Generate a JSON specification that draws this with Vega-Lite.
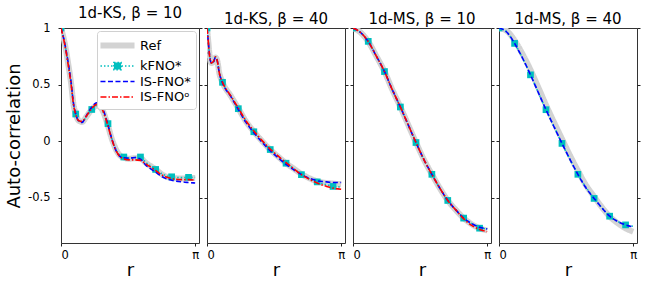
{
  "$schema": "https://vega.github.io/schema/vega-lite/v6.json",
  "padding": {"left": 5, "top": 5, "right": 2, "bottom": 0},
  "background": "white",
  "datasets": {
    "curves": [
      {"panel":"KS10","x":0,"Ref":1,"kFNO*":1,"IS-FNO*":1,"IS-FNOᵒ":1},
      {"panel":"KS10","x":0.09,"Ref":0.86,"kFNO*":0.86,"IS-FNO*":0.86,"IS-FNOᵒ":0.85},
      {"panel":"KS10","x":0.17,"Ref":0.68,"kFNO*":0.68,"IS-FNO*":0.69,"IS-FNOᵒ":0.67},
      {"panel":"KS10","x":0.24,"Ref":0.5,"kFNO*":0.5,"IS-FNO*":0.51,"IS-FNOᵒ":0.49},
      {"panel":"KS10","x":0.29,"Ref":0.33,"kFNO*":0.33,"IS-FNO*":0.34,"IS-FNOᵒ":0.33},
      {"panel":"KS10","x":0.345,"Ref":0.24,"kFNO*":0.24,"IS-FNO*":0.24,"IS-FNOᵒ":0.235},
      {"panel":"KS10","x":0.42,"Ref":0.18,"kFNO*":0.18,"IS-FNO*":0.175,"IS-FNOᵒ":0.18},
      {"panel":"KS10","x":0.49,"Ref":0.17,"kFNO*":0.17,"IS-FNO*":0.165,"IS-FNOᵒ":0.175},
      {"panel":"KS10","x":0.6,"Ref":0.22,"kFNO*":0.22,"IS-FNO*":0.23,"IS-FNOᵒ":0.225},
      {"panel":"KS10","x":0.72,"Ref":0.28,"kFNO*":0.28,"IS-FNO*":0.3,"IS-FNOᵒ":0.29},
      {"panel":"KS10","x":0.84,"Ref":0.315,"kFNO*":0.315,"IS-FNO*":0.34,"IS-FNOᵒ":0.325},
      {"panel":"KS10","x":0.96,"Ref":0.28,"kFNO*":0.28,"IS-FNO*":0.3,"IS-FNOᵒ":0.285},
      {"panel":"KS10","x":1.08,"Ref":0.16,"kFNO*":0.16,"IS-FNO*":0.17,"IS-FNOᵒ":0.16},
      {"panel":"KS10","x":1.19,"Ref":0.02,"kFNO*":0.02,"IS-FNO*":0.02,"IS-FNOᵒ":0.015},
      {"panel":"KS10","x":1.31,"Ref":-0.09,"kFNO*":-0.09,"IS-FNO*":-0.1,"IS-FNOᵒ":-0.1},
      {"panel":"KS10","x":1.43,"Ref":-0.14,"kFNO*":-0.14,"IS-FNO*":-0.145,"IS-FNOᵒ":-0.15},
      {"panel":"KS10","x":1.59,"Ref":-0.155,"kFNO*":-0.15,"IS-FNO*":-0.15,"IS-FNOᵒ":-0.165},
      {"panel":"KS10","x":1.74,"Ref":-0.15,"kFNO*":-0.145,"IS-FNO*":-0.145,"IS-FNOᵒ":-0.165},
      {"panel":"KS10","x":1.86,"Ref":-0.15,"kFNO*":-0.14,"IS-FNO*":-0.16,"IS-FNOᵒ":-0.17},
      {"panel":"KS10","x":1.98,"Ref":-0.19,"kFNO*":-0.185,"IS-FNO*":-0.21,"IS-FNOᵒ":-0.2},
      {"panel":"KS10","x":2.22,"Ref":-0.25,"kFNO*":-0.25,"IS-FNO*":-0.275,"IS-FNOᵒ":-0.26},
      {"panel":"KS10","x":2.37,"Ref":-0.295,"kFNO*":-0.29,"IS-FNO*":-0.315,"IS-FNOᵒ":-0.3},
      {"panel":"KS10","x":2.59,"Ref":-0.325,"kFNO*":-0.318,"IS-FNO*":-0.345,"IS-FNOᵒ":-0.33},
      {"panel":"KS10","x":2.84,"Ref":-0.33,"kFNO*":-0.322,"IS-FNO*":-0.36,"IS-FNOᵒ":-0.34},
      {"panel":"KS10","x":2.98,"Ref":-0.325,"kFNO*":-0.32,"IS-FNO*":-0.365,"IS-FNOᵒ":-0.34},
      {"panel":"KS10","x":3.14,"Ref":-0.325,"kFNO*":-0.32,"IS-FNO*":-0.37,"IS-FNOᵒ":-0.345},

      {"panel":"KS40","x":0,"Ref":1,"kFNO*":1,"IS-FNO*":1,"IS-FNOᵒ":1},
      {"panel":"KS40","x":0.03,"Ref":0.88,"kFNO*":0.88,"IS-FNO*":0.88,"IS-FNOᵒ":0.88},
      {"panel":"KS40","x":0.06,"Ref":0.76,"kFNO*":0.76,"IS-FNO*":0.76,"IS-FNOᵒ":0.755},
      {"panel":"KS40","x":0.1,"Ref":0.69,"kFNO*":0.69,"IS-FNO*":0.69,"IS-FNOᵒ":0.69},
      {"panel":"KS40","x":0.15,"Ref":0.7,"kFNO*":0.7,"IS-FNO*":0.7,"IS-FNOᵒ":0.705},
      {"panel":"KS40","x":0.2,"Ref":0.74,"kFNO*":0.74,"IS-FNO*":0.74,"IS-FNOᵒ":0.745},
      {"panel":"KS40","x":0.24,"Ref":0.71,"kFNO*":0.71,"IS-FNO*":0.71,"IS-FNOᵒ":0.71},
      {"panel":"KS40","x":0.29,"Ref":0.6,"kFNO*":0.6,"IS-FNO*":0.6,"IS-FNOᵒ":0.6},
      {"panel":"KS40","x":0.363,"Ref":0.52,"kFNO*":0.52,"IS-FNO*":0.515,"IS-FNOᵒ":0.52},
      {"panel":"KS40","x":0.556,"Ref":0.4,"kFNO*":0.4,"IS-FNO*":0.395,"IS-FNOᵒ":0.4},
      {"panel":"KS40","x":0.733,"Ref":0.29,"kFNO*":0.288,"IS-FNO*":0.28,"IS-FNOᵒ":0.292},
      {"panel":"KS40","x":0.903,"Ref":0.18,"kFNO*":0.18,"IS-FNO*":0.17,"IS-FNOᵒ":0.185},
      {"panel":"KS40","x":1.096,"Ref":0.085,"kFNO*":0.083,"IS-FNO*":0.075,"IS-FNOᵒ":0.09},
      {"panel":"KS40","x":1.29,"Ref":0,"kFNO*":0,"IS-FNO*":-0.01,"IS-FNOᵒ":0.005},
      {"panel":"KS40","x":1.48,"Ref":-0.075,"kFNO*":-0.074,"IS-FNO*":-0.085,"IS-FNOᵒ":-0.07},
      {"panel":"KS40","x":1.675,"Ref":-0.14,"kFNO*":-0.14,"IS-FNO*":-0.15,"IS-FNOᵒ":-0.135},
      {"panel":"KS40","x":1.85,"Ref":-0.195,"kFNO*":-0.195,"IS-FNO*":-0.205,"IS-FNOᵒ":-0.19},
      {"panel":"KS40","x":2.02,"Ref":-0.24,"kFNO*":-0.24,"IS-FNO*":-0.25,"IS-FNOᵒ":-0.24},
      {"panel":"KS40","x":2.21,"Ref":-0.29,"kFNO*":-0.293,"IS-FNO*":-0.295,"IS-FNOᵒ":-0.295},
      {"panel":"KS40","x":2.41,"Ref":-0.33,"kFNO*":-0.335,"IS-FNO*":-0.33,"IS-FNOᵒ":-0.34},
      {"panel":"KS40","x":2.58,"Ref":-0.355,"kFNO*":-0.36,"IS-FNO*":-0.35,"IS-FNOᵒ":-0.37},
      {"panel":"KS40","x":2.8,"Ref":-0.37,"kFNO*":-0.385,"IS-FNO*":-0.36,"IS-FNOᵒ":-0.4},
      {"panel":"KS40","x":2.95,"Ref":-0.375,"kFNO*":-0.4,"IS-FNO*":-0.365,"IS-FNOᵒ":-0.415},
      {"panel":"KS40","x":3.14,"Ref":-0.38,"kFNO*":-0.405,"IS-FNO*":-0.365,"IS-FNOᵒ":-0.425},

      {"panel":"MS10","x":0,"Ref":1,"kFNO*":1,"IS-FNO*":1,"IS-FNOᵒ":1},
      {"panel":"MS10","x":0.178,"Ref":0.96,"kFNO*":0.96,"IS-FNO*":0.96,"IS-FNOᵒ":0.96},
      {"panel":"MS10","x":0.357,"Ref":0.88,"kFNO*":0.88,"IS-FNO*":0.88,"IS-FNOᵒ":0.88},
      {"panel":"MS10","x":0.543,"Ref":0.754,"kFNO*":0.754,"IS-FNO*":0.754,"IS-FNOᵒ":0.754},
      {"panel":"MS10","x":0.737,"Ref":0.615,"kFNO*":0.615,"IS-FNO*":0.615,"IS-FNOᵒ":0.615},
      {"panel":"MS10","x":0.915,"Ref":0.459,"kFNO*":0.459,"IS-FNO*":0.459,"IS-FNOᵒ":0.459},
      {"panel":"MS10","x":1.109,"Ref":0.302,"kFNO*":0.302,"IS-FNO*":0.302,"IS-FNOᵒ":0.302},
      {"panel":"MS10","x":1.288,"Ref":0.148,"kFNO*":0.148,"IS-FNO*":0.148,"IS-FNOᵒ":0.148},
      {"panel":"MS10","x":1.474,"Ref":-0.012,"kFNO*":-0.012,"IS-FNO*":-0.012,"IS-FNOᵒ":-0.012},
      {"panel":"MS10","x":1.66,"Ref":-0.163,"kFNO*":-0.163,"IS-FNO*":-0.163,"IS-FNOᵒ":-0.163},
      {"panel":"MS10","x":1.846,"Ref":-0.293,"kFNO*":-0.293,"IS-FNO*":-0.293,"IS-FNOᵒ":-0.293},
      {"panel":"MS10","x":2.03,"Ref":-0.414,"kFNO*":-0.414,"IS-FNO*":-0.414,"IS-FNOᵒ":-0.414},
      {"panel":"MS10","x":2.218,"Ref":-0.524,"kFNO*":-0.524,"IS-FNO*":-0.524,"IS-FNOᵒ":-0.524},
      {"panel":"MS10","x":2.405,"Ref":-0.607,"kFNO*":-0.607,"IS-FNO*":-0.607,"IS-FNOᵒ":-0.607},
      {"panel":"MS10","x":2.59,"Ref":-0.68,"kFNO*":-0.678,"IS-FNO*":-0.68,"IS-FNOᵒ":-0.685},
      {"panel":"MS10","x":2.777,"Ref":-0.734,"kFNO*":-0.73,"IS-FNO*":-0.728,"IS-FNOᵒ":-0.745},
      {"panel":"MS10","x":2.963,"Ref":-0.769,"kFNO*":-0.765,"IS-FNO*":-0.76,"IS-FNOᵒ":-0.78},
      {"panel":"MS10","x":3.14,"Ref":-0.79,"kFNO*":-0.775,"IS-FNO*":-0.775,"IS-FNOᵒ":-0.8},

      {"panel":"MS40","x":0,"Ref":1,"kFNO*":1,"IS-FNO*":1},
      {"panel":"MS40","x":0.18,"Ref":0.975,"kFNO*":0.965,"IS-FNO*":0.965},
      {"panel":"MS40","x":0.365,"Ref":0.89,"kFNO*":0.864,"IS-FNO*":0.864},
      {"panel":"MS40","x":0.55,"Ref":0.77,"kFNO*":0.735,"IS-FNO*":0.735},
      {"panel":"MS40","x":0.737,"Ref":0.63,"kFNO*":0.586,"IS-FNO*":0.586},
      {"panel":"MS40","x":0.92,"Ref":0.475,"kFNO*":0.43,"IS-FNO*":0.43},
      {"panel":"MS40","x":1.1,"Ref":0.32,"kFNO*":0.278,"IS-FNO*":0.278},
      {"panel":"MS40","x":1.29,"Ref":0.165,"kFNO*":0.127,"IS-FNO*":0.125},
      {"panel":"MS40","x":1.474,"Ref":0.02,"kFNO*":-0.02,"IS-FNO*":-0.02},
      {"panel":"MS40","x":1.66,"Ref":-0.125,"kFNO*":-0.16,"IS-FNO*":-0.16},
      {"panel":"MS40","x":1.846,"Ref":-0.26,"kFNO*":-0.293,"IS-FNO*":-0.293},
      {"panel":"MS40","x":2.03,"Ref":-0.385,"kFNO*":-0.405,"IS-FNO*":-0.41},
      {"panel":"MS40","x":2.226,"Ref":-0.49,"kFNO*":-0.506,"IS-FNO*":-0.506},
      {"panel":"MS40","x":2.41,"Ref":-0.585,"kFNO*":-0.59,"IS-FNO*":-0.59},
      {"panel":"MS40","x":2.59,"Ref":-0.665,"kFNO*":-0.663,"IS-FNO*":-0.663},
      {"panel":"MS40","x":2.78,"Ref":-0.725,"kFNO*":-0.71,"IS-FNO*":-0.71},
      {"panel":"MS40","x":2.963,"Ref":-0.77,"kFNO*":-0.74,"IS-FNO*":-0.74},
      {"panel":"MS40","x":3.14,"Ref":-0.8,"kFNO*":-0.752,"IS-FNO*":-0.757}
    ],
    "markers": [
      {"panel":"KS10","x":0,"y":1},{"panel":"KS10","x":0.345,"y":0.24},{"panel":"KS10","x":0.72,"y":0.28},{"panel":"KS10","x":1.1,"y":0.155},{"panel":"KS10","x":1.47,"y":-0.14},{"panel":"KS10","x":1.86,"y":-0.14},{"panel":"KS10","x":2.215,"y":-0.25},{"panel":"KS10","x":2.59,"y":-0.315},{"panel":"KS10","x":2.985,"y":-0.32},
      {"panel":"KS40","x":0,"y":1},{"panel":"KS40","x":0.363,"y":0.52},{"panel":"KS40","x":0.733,"y":0.287},{"panel":"KS40","x":1.096,"y":0.083},{"panel":"KS40","x":1.48,"y":-0.074},{"panel":"KS40","x":1.85,"y":-0.195},{"panel":"KS40","x":2.21,"y":-0.296},{"panel":"KS40","x":2.58,"y":-0.36},{"panel":"KS40","x":2.95,"y":-0.4},
      {"panel":"MS10","x":0,"y":1},{"panel":"MS10","x":0.357,"y":0.882},{"panel":"MS10","x":0.737,"y":0.615},{"panel":"MS10","x":1.109,"y":0.302},{"panel":"MS10","x":1.474,"y":-0.012},{"panel":"MS10","x":1.846,"y":-0.293},{"panel":"MS10","x":2.218,"y":-0.524},{"panel":"MS10","x":2.59,"y":-0.68},{"panel":"MS10","x":2.963,"y":-0.769},
      {"panel":"MS40","x":0,"y":1},{"panel":"MS40","x":0.365,"y":0.864},{"panel":"MS40","x":0.737,"y":0.586},{"panel":"MS40","x":1.1,"y":0.278},{"panel":"MS40","x":1.474,"y":-0.02},{"panel":"MS40","x":1.846,"y":-0.293},{"panel":"MS40","x":2.226,"y":-0.506},{"panel":"MS40","x":2.59,"y":-0.663},{"panel":"MS40","x":2.963,"y":-0.74}
    ]
  },
  "config": {
    "font": "DejaVu Sans",
    "view": {"stroke": "#333333", "strokeWidth": 1},
    "axis": {"grid": false, "domain": false, "tickColor": "#222222", "tickSize": 3, "tickWidth": 1, "labelColor": "#000000", "labelFontSize": 11.5, "labelFont": "DejaVu Sans", "titleColor": "#000000", "titleFont": "DejaVu Sans", "titleFontWeight": "normal", "titleFontSize": 18, "minExtent": 0, "labelPadding": 3},
    "title": {"fontSize": 15, "fontWeight": "normal", "color": "#000000", "font": "DejaVu Sans", "offset": 1},
    "concat": {"spacing": 0},
    "legend": {"labelFont": "DejaVu Sans"}
  },
  "resolve": {"legend": {"color": "independent", "strokeDash": "independent", "strokeWidth": "independent"}},
  "hconcat": [
    {
      "width": 138, "height": 215,
      "title": {"text": "1d-KS, β = 10"},
      "encoding": {"x": {"field": "x", "type": "quantitative", "scale": {"domain": [0, 3.23], "nice": false, "zero": false}, "axis": {"values": [0, 3.14159265], "labelExpr": "datum.value < 1 ? '0' : 'π'", "title": "r", "titlePadding": 1}}},
      "layer": [
        {"data": {"name": "curves"}, "transform": [{"filter": "datum.panel === 'KS10'"}, {"fold": ["Ref"], "as": ["series", "y"]}],
         "mark": {"type": "line", "interpolate": "monotone", "clip": true},
         "encoding": {
           "y": {"field": "y", "type": "quantitative", "scale": {"domain": [-0.9, 1], "nice": false, "zero": false}, "axis": {"orient": "left", "values": [-0.5, 0, 0.5, 1], "labelExpr": "datum.value == 1 ? '1' : datum.value == 0 ? '0' : datum.value > 0 ? '0.5' : '-0.5'", "title": "Auto-correlation", "labelPadding": 8, "titlePadding": 4}},
           "color": {"field": "series", "type": "nominal", "scale": {"domain": ["Ref", "kFNO*", "IS-FNO*", "IS-FNOᵒ"], "range": ["#d3d3d3", "#00bfbf", "#0000ff", "#ff0000"]},
             "legend": {"orient": "top-right", "offset": 3, "title": null, "fillColor": "white", "strokeColor": "#d0d0d0", "cornerRadius": 3, "padding": 5, "labelFontSize": 13, "labelColor": "#000000", "symbolType": "M-2.62,0H2.62", "symbolSize": 169, "symbolFillColor": "#00bfbf", "labelOffset": 13, "symbolOffset": 6, "rowPadding": 0.5,
               "encode": {"symbols": {"update": {"shape": [{"test": "datum.value === 'kFNO*'", "value": "M-2.62,0H2.62M-0.55,-0.55H0.55V0.55H-0.55Z"}, {"value": "M-2.62,0H2.62"}], "fill": [{"test": "datum.value === 'kFNO*'", "value": "#00bfbf"}, {"value": "transparent"}], "fillOpacity": {"value": 1}}}}}},
           "strokeDash": {"field": "series", "type": "nominal", "scale": {"domain": ["Ref", "kFNO*", "IS-FNO*", "IS-FNOᵒ"], "range": [[1, 0], [1.5, 2], [5, 2.5], [6, 2, 1.5, 2]]}},
           "strokeWidth": {"field": "series", "type": "nominal", "scale": {"type": "ordinal", "domain": ["Ref", "kFNO*", "IS-FNO*", "IS-FNOᵒ"], "range": [6, 1.6, 1.6, 1.6]}}
         }},
        {"data": {"name": "curves"}, "transform": [{"filter": "datum.panel === 'KS10'"}, {"fold": ["kFNO*"], "as": ["series", "y"]}],
         "mark": {"type": "line", "interpolate": "monotone", "clip": true},
         "encoding": {
           "y": {"field": "y", "type": "quantitative", "scale": {"domain": [-0.9, 1], "nice": false, "zero": false}, "axis": null},
           "color": {"field": "series", "type": "nominal", "scale": {"domain": ["Ref", "kFNO*", "IS-FNO*", "IS-FNOᵒ"], "range": ["#d3d3d3", "#00bfbf", "#0000ff", "#ff0000"]}},
           "strokeDash": {"field": "series", "type": "nominal", "scale": {"domain": ["Ref", "kFNO*", "IS-FNO*", "IS-FNOᵒ"], "range": [[1, 0], [1.5, 2], [5, 2.5], [6, 2, 1.5, 2]]}},
           "strokeWidth": {"field": "series", "type": "nominal", "scale": {"type": "ordinal", "domain": ["Ref", "kFNO*", "IS-FNO*", "IS-FNOᵒ"], "range": [6, 1.6, 1.6, 1.6]}}
         }},
        {"data": {"name": "markers"}, "transform": [{"filter": "datum.panel === 'KS10'"}],
         "mark": {"type": "point", "shape": "square", "filled": true, "size": 45, "opacity": 1, "color": "#00bfbf", "clip": true},
         "encoding": {
           "y": {"field": "y", "type": "quantitative", "scale": {"domain": [-0.9, 1], "nice": false, "zero": false}, "axis": {"orient": "right", "values": [-0.5, 0, 0.5, 1], "labels": false, "title": null}}
         }},
        {"data": {"name": "curves"}, "transform": [{"filter": "datum.panel === 'KS10'"}, {"fold": ["IS-FNO*"], "as": ["series", "y"]}],
         "mark": {"type": "line", "interpolate": "monotone", "clip": true},
         "encoding": {
           "y": {"field": "y", "type": "quantitative", "scale": {"domain": [-0.9, 1], "nice": false, "zero": false}, "axis": null},
           "color": {"field": "series", "type": "nominal", "scale": {"domain": ["Ref", "kFNO*", "IS-FNO*", "IS-FNOᵒ"], "range": ["#d3d3d3", "#00bfbf", "#0000ff", "#ff0000"]}},
           "strokeDash": {"field": "series", "type": "nominal", "scale": {"domain": ["Ref", "kFNO*", "IS-FNO*", "IS-FNOᵒ"], "range": [[1, 0], [1.5, 2], [5, 2.5], [6, 2, 1.5, 2]]}},
           "strokeWidth": {"field": "series", "type": "nominal", "scale": {"type": "ordinal", "domain": ["Ref", "kFNO*", "IS-FNO*", "IS-FNOᵒ"], "range": [6, 1.6, 1.6, 1.6]}}
         }},
        {"data": {"name": "curves"}, "transform": [{"filter": "datum.panel === 'KS10'"}, {"fold": ["IS-FNOᵒ"], "as": ["series", "y"]}],
         "mark": {"type": "line", "interpolate": "monotone", "clip": true},
         "encoding": {
           "y": {"field": "y", "type": "quantitative", "scale": {"domain": [-0.9, 1], "nice": false, "zero": false}, "axis": null},
           "color": {"field": "series", "type": "nominal", "scale": {"domain": ["Ref", "kFNO*", "IS-FNO*", "IS-FNOᵒ"], "range": ["#d3d3d3", "#00bfbf", "#0000ff", "#ff0000"]}},
           "strokeDash": {"field": "series", "type": "nominal", "scale": {"domain": ["Ref", "kFNO*", "IS-FNO*", "IS-FNOᵒ"], "range": [[1, 0], [1.5, 2], [5, 2.5], [6, 2, 1.5, 2]]}},
           "strokeWidth": {"field": "series", "type": "nominal", "scale": {"type": "ordinal", "domain": ["Ref", "kFNO*", "IS-FNO*", "IS-FNOᵒ"], "range": [6, 1.6, 1.6, 1.6]}}
         }}
      ],
      "resolve": {"axis": {"y": "independent"}}
    },
    {
      "width": 138, "height": 215,
      "title": {"text": "1d-KS, β = 40"},
      "encoding": {"x": {"field": "x", "type": "quantitative", "scale": {"domain": [0, 3.23], "nice": false, "zero": false}, "axis": {"values": [0, 3.14159265], "labelExpr": "datum.value < 1 ? '0' : 'π'", "title": "r", "titlePadding": 1}}},
      "layer": [
        {"data": {"name": "curves"}, "transform": [{"filter": "datum.panel === 'KS40'"}, {"fold": ["Ref"], "as": ["series", "y"]}],
         "mark": {"type": "line", "interpolate": "monotone", "clip": true},
         "encoding": {
           "y": {"field": "y", "type": "quantitative", "scale": {"domain": [-0.9, 1], "nice": false, "zero": false}, "axis": {"orient": "left", "values": [-0.5, 0, 0.5, 1], "labels": false, "title": null}},
           "color": {"field": "series", "type": "nominal", "scale": {"domain": ["Ref", "kFNO*", "IS-FNO*", "IS-FNOᵒ"], "range": ["#d3d3d3", "#00bfbf", "#0000ff", "#ff0000"]}, "legend": null},
           "strokeDash": {"field": "series", "type": "nominal", "scale": {"domain": ["Ref", "kFNO*", "IS-FNO*", "IS-FNOᵒ"], "range": [[1, 0], [1.5, 2], [5, 2.5], [6, 2, 1.5, 2]]}, "legend": null},
           "strokeWidth": {"field": "series", "type": "nominal", "scale": {"type": "ordinal", "domain": ["Ref", "kFNO*", "IS-FNO*", "IS-FNOᵒ"], "range": [6, 1.6, 1.6, 1.6]}, "legend": null}
         }},
        {"data": {"name": "curves"}, "transform": [{"filter": "datum.panel === 'KS40'"}, {"fold": ["kFNO*"], "as": ["series", "y"]}],
         "mark": {"type": "line", "interpolate": "monotone", "clip": true},
         "encoding": {
           "y": {"field": "y", "type": "quantitative", "scale": {"domain": [-0.9, 1], "nice": false, "zero": false}, "axis": null},
           "color": {"field": "series", "type": "nominal", "scale": {"domain": ["Ref", "kFNO*", "IS-FNO*", "IS-FNOᵒ"], "range": ["#d3d3d3", "#00bfbf", "#0000ff", "#ff0000"]}, "legend": null},
           "strokeDash": {"field": "series", "type": "nominal", "scale": {"domain": ["Ref", "kFNO*", "IS-FNO*", "IS-FNOᵒ"], "range": [[1, 0], [1.5, 2], [5, 2.5], [6, 2, 1.5, 2]]}, "legend": null},
           "strokeWidth": {"field": "series", "type": "nominal", "scale": {"type": "ordinal", "domain": ["Ref", "kFNO*", "IS-FNO*", "IS-FNOᵒ"], "range": [6, 1.6, 1.6, 1.6]}, "legend": null}
         }},
        {"data": {"name": "markers"}, "transform": [{"filter": "datum.panel === 'KS40'"}],
         "mark": {"type": "point", "shape": "square", "filled": true, "size": 45, "opacity": 1, "color": "#00bfbf", "clip": true},
         "encoding": {
           "y": {"field": "y", "type": "quantitative", "scale": {"domain": [-0.9, 1], "nice": false, "zero": false}, "axis": {"orient": "right", "values": [-0.5, 0, 0.5, 1], "labels": false, "title": null}}
         }},
        {"data": {"name": "curves"}, "transform": [{"filter": "datum.panel === 'KS40'"}, {"fold": ["IS-FNO*"], "as": ["series", "y"]}],
         "mark": {"type": "line", "interpolate": "monotone", "clip": true},
         "encoding": {
           "y": {"field": "y", "type": "quantitative", "scale": {"domain": [-0.9, 1], "nice": false, "zero": false}, "axis": null},
           "color": {"field": "series", "type": "nominal", "scale": {"domain": ["Ref", "kFNO*", "IS-FNO*", "IS-FNOᵒ"], "range": ["#d3d3d3", "#00bfbf", "#0000ff", "#ff0000"]}, "legend": null},
           "strokeDash": {"field": "series", "type": "nominal", "scale": {"domain": ["Ref", "kFNO*", "IS-FNO*", "IS-FNOᵒ"], "range": [[1, 0], [1.5, 2], [5, 2.5], [6, 2, 1.5, 2]]}, "legend": null},
           "strokeWidth": {"field": "series", "type": "nominal", "scale": {"type": "ordinal", "domain": ["Ref", "kFNO*", "IS-FNO*", "IS-FNOᵒ"], "range": [6, 1.6, 1.6, 1.6]}, "legend": null}
         }},
        {"data": {"name": "curves"}, "transform": [{"filter": "datum.panel === 'KS40'"}, {"fold": ["IS-FNOᵒ"], "as": ["series", "y"]}],
         "mark": {"type": "line", "interpolate": "monotone", "clip": true},
         "encoding": {
           "y": {"field": "y", "type": "quantitative", "scale": {"domain": [-0.9, 1], "nice": false, "zero": false}, "axis": null},
           "color": {"field": "series", "type": "nominal", "scale": {"domain": ["Ref", "kFNO*", "IS-FNO*", "IS-FNOᵒ"], "range": ["#d3d3d3", "#00bfbf", "#0000ff", "#ff0000"]}, "legend": null},
           "strokeDash": {"field": "series", "type": "nominal", "scale": {"domain": ["Ref", "kFNO*", "IS-FNO*", "IS-FNOᵒ"], "range": [[1, 0], [1.5, 2], [5, 2.5], [6, 2, 1.5, 2]]}, "legend": null},
           "strokeWidth": {"field": "series", "type": "nominal", "scale": {"type": "ordinal", "domain": ["Ref", "kFNO*", "IS-FNO*", "IS-FNOᵒ"], "range": [6, 1.6, 1.6, 1.6]}, "legend": null}
         }}
      ],
      "resolve": {"axis": {"y": "independent"}}
    },
    {
      "width": 138, "height": 215,
      "title": {"text": "1d-MS, β = 10"},
      "encoding": {"x": {"field": "x", "type": "quantitative", "scale": {"domain": [0, 3.23], "nice": false, "zero": false}, "axis": {"values": [0, 3.14159265], "labelExpr": "datum.value < 1 ? '0' : 'π'", "title": "r", "titlePadding": 1}}},
      "layer": [
        {"data": {"name": "curves"}, "transform": [{"filter": "datum.panel === 'MS10'"}, {"fold": ["Ref"], "as": ["series", "y"]}],
         "mark": {"type": "line", "interpolate": "monotone", "clip": true},
         "encoding": {
           "y": {"field": "y", "type": "quantitative", "scale": {"domain": [-0.9, 1], "nice": false, "zero": false}, "axis": {"orient": "left", "values": [-0.5, 0, 0.5, 1], "labels": false, "title": null}},
           "color": {"field": "series", "type": "nominal", "scale": {"domain": ["Ref", "kFNO*", "IS-FNO*", "IS-FNOᵒ"], "range": ["#d3d3d3", "#00bfbf", "#0000ff", "#ff0000"]}, "legend": null},
           "strokeDash": {"field": "series", "type": "nominal", "scale": {"domain": ["Ref", "kFNO*", "IS-FNO*", "IS-FNOᵒ"], "range": [[1, 0], [1.5, 2], [5, 2.5], [6, 2, 1.5, 2]]}, "legend": null},
           "strokeWidth": {"field": "series", "type": "nominal", "scale": {"type": "ordinal", "domain": ["Ref", "kFNO*", "IS-FNO*", "IS-FNOᵒ"], "range": [6, 1.6, 1.6, 1.6]}, "legend": null}
         }},
        {"data": {"name": "curves"}, "transform": [{"filter": "datum.panel === 'MS10'"}, {"fold": ["kFNO*"], "as": ["series", "y"]}],
         "mark": {"type": "line", "interpolate": "monotone", "clip": true},
         "encoding": {
           "y": {"field": "y", "type": "quantitative", "scale": {"domain": [-0.9, 1], "nice": false, "zero": false}, "axis": null},
           "color": {"field": "series", "type": "nominal", "scale": {"domain": ["Ref", "kFNO*", "IS-FNO*", "IS-FNOᵒ"], "range": ["#d3d3d3", "#00bfbf", "#0000ff", "#ff0000"]}, "legend": null},
           "strokeDash": {"field": "series", "type": "nominal", "scale": {"domain": ["Ref", "kFNO*", "IS-FNO*", "IS-FNOᵒ"], "range": [[1, 0], [1.5, 2], [5, 2.5], [6, 2, 1.5, 2]]}, "legend": null},
           "strokeWidth": {"field": "series", "type": "nominal", "scale": {"type": "ordinal", "domain": ["Ref", "kFNO*", "IS-FNO*", "IS-FNOᵒ"], "range": [6, 1.6, 1.6, 1.6]}, "legend": null}
         }},
        {"data": {"name": "markers"}, "transform": [{"filter": "datum.panel === 'MS10'"}],
         "mark": {"type": "point", "shape": "square", "filled": true, "size": 45, "opacity": 1, "color": "#00bfbf", "clip": true},
         "encoding": {
           "y": {"field": "y", "type": "quantitative", "scale": {"domain": [-0.9, 1], "nice": false, "zero": false}, "axis": {"orient": "right", "values": [-0.5, 0, 0.5, 1], "labels": false, "title": null}}
         }},
        {"data": {"name": "curves"}, "transform": [{"filter": "datum.panel === 'MS10'"}, {"fold": ["IS-FNO*"], "as": ["series", "y"]}],
         "mark": {"type": "line", "interpolate": "monotone", "clip": true},
         "encoding": {
           "y": {"field": "y", "type": "quantitative", "scale": {"domain": [-0.9, 1], "nice": false, "zero": false}, "axis": null},
           "color": {"field": "series", "type": "nominal", "scale": {"domain": ["Ref", "kFNO*", "IS-FNO*", "IS-FNOᵒ"], "range": ["#d3d3d3", "#00bfbf", "#0000ff", "#ff0000"]}, "legend": null},
           "strokeDash": {"field": "series", "type": "nominal", "scale": {"domain": ["Ref", "kFNO*", "IS-FNO*", "IS-FNOᵒ"], "range": [[1, 0], [1.5, 2], [5, 2.5], [6, 2, 1.5, 2]]}, "legend": null},
           "strokeWidth": {"field": "series", "type": "nominal", "scale": {"type": "ordinal", "domain": ["Ref", "kFNO*", "IS-FNO*", "IS-FNOᵒ"], "range": [6, 1.6, 1.6, 1.6]}, "legend": null}
         }},
        {"data": {"name": "curves"}, "transform": [{"filter": "datum.panel === 'MS10'"}, {"fold": ["IS-FNOᵒ"], "as": ["series", "y"]}],
         "mark": {"type": "line", "interpolate": "monotone", "clip": true},
         "encoding": {
           "y": {"field": "y", "type": "quantitative", "scale": {"domain": [-0.9, 1], "nice": false, "zero": false}, "axis": null},
           "color": {"field": "series", "type": "nominal", "scale": {"domain": ["Ref", "kFNO*", "IS-FNO*", "IS-FNOᵒ"], "range": ["#d3d3d3", "#00bfbf", "#0000ff", "#ff0000"]}, "legend": null},
           "strokeDash": {"field": "series", "type": "nominal", "scale": {"domain": ["Ref", "kFNO*", "IS-FNO*", "IS-FNOᵒ"], "range": [[1, 0], [1.5, 2], [5, 2.5], [6, 2, 1.5, 2]]}, "legend": null},
           "strokeWidth": {"field": "series", "type": "nominal", "scale": {"type": "ordinal", "domain": ["Ref", "kFNO*", "IS-FNO*", "IS-FNOᵒ"], "range": [6, 1.6, 1.6, 1.6]}, "legend": null}
         }}
      ],
      "resolve": {"axis": {"y": "independent"}}
    },
    {
      "width": 138, "height": 215,
      "title": {"text": "1d-MS, β = 40"},
      "encoding": {"x": {"field": "x", "type": "quantitative", "scale": {"domain": [0, 3.23], "nice": false, "zero": false}, "axis": {"values": [0, 3.14159265], "labelExpr": "datum.value < 1 ? '0' : 'π'", "title": "r", "titlePadding": 1}}},
      "layer": [
        {"data": {"name": "curves"}, "transform": [{"filter": "datum.panel === 'MS40'"}, {"fold": ["Ref"], "as": ["series", "y"]}],
         "mark": {"type": "line", "interpolate": "monotone", "clip": true},
         "encoding": {
           "y": {"field": "y", "type": "quantitative", "scale": {"domain": [-0.9, 1], "nice": false, "zero": false}, "axis": {"orient": "left", "values": [-0.5, 0, 0.5, 1], "labels": false, "title": null}},
           "color": {"field": "series", "type": "nominal", "scale": {"domain": ["Ref", "kFNO*", "IS-FNO*", "IS-FNOᵒ"], "range": ["#d3d3d3", "#00bfbf", "#0000ff", "#ff0000"]}, "legend": null},
           "strokeDash": {"field": "series", "type": "nominal", "scale": {"domain": ["Ref", "kFNO*", "IS-FNO*", "IS-FNOᵒ"], "range": [[1, 0], [1.5, 2], [5, 2.5], [6, 2, 1.5, 2]]}, "legend": null},
           "strokeWidth": {"field": "series", "type": "nominal", "scale": {"type": "ordinal", "domain": ["Ref", "kFNO*", "IS-FNO*", "IS-FNOᵒ"], "range": [6, 1.6, 1.6, 1.6]}, "legend": null}
         }},
        {"data": {"name": "curves"}, "transform": [{"filter": "datum.panel === 'MS40'"}, {"fold": ["kFNO*"], "as": ["series", "y"]}],
         "mark": {"type": "line", "interpolate": "monotone", "clip": true},
         "encoding": {
           "y": {"field": "y", "type": "quantitative", "scale": {"domain": [-0.9, 1], "nice": false, "zero": false}, "axis": null},
           "color": {"field": "series", "type": "nominal", "scale": {"domain": ["Ref", "kFNO*", "IS-FNO*", "IS-FNOᵒ"], "range": ["#d3d3d3", "#00bfbf", "#0000ff", "#ff0000"]}, "legend": null},
           "strokeDash": {"field": "series", "type": "nominal", "scale": {"domain": ["Ref", "kFNO*", "IS-FNO*", "IS-FNOᵒ"], "range": [[1, 0], [1.5, 2], [5, 2.5], [6, 2, 1.5, 2]]}, "legend": null},
           "strokeWidth": {"field": "series", "type": "nominal", "scale": {"type": "ordinal", "domain": ["Ref", "kFNO*", "IS-FNO*", "IS-FNOᵒ"], "range": [6, 1.6, 1.6, 1.6]}, "legend": null}
         }},
        {"data": {"name": "markers"}, "transform": [{"filter": "datum.panel === 'MS40'"}],
         "mark": {"type": "point", "shape": "square", "filled": true, "size": 45, "opacity": 1, "color": "#00bfbf", "clip": true},
         "encoding": {
           "y": {"field": "y", "type": "quantitative", "scale": {"domain": [-0.9, 1], "nice": false, "zero": false}, "axis": {"orient": "right", "values": [-0.5, 0, 0.5, 1], "labels": false, "title": null}}
         }},
        {"data": {"name": "curves"}, "transform": [{"filter": "datum.panel === 'MS40'"}, {"fold": ["IS-FNO*"], "as": ["series", "y"]}],
         "mark": {"type": "line", "interpolate": "monotone", "clip": true},
         "encoding": {
           "y": {"field": "y", "type": "quantitative", "scale": {"domain": [-0.9, 1], "nice": false, "zero": false}, "axis": null},
           "color": {"field": "series", "type": "nominal", "scale": {"domain": ["Ref", "kFNO*", "IS-FNO*", "IS-FNOᵒ"], "range": ["#d3d3d3", "#00bfbf", "#0000ff", "#ff0000"]}, "legend": null},
           "strokeDash": {"field": "series", "type": "nominal", "scale": {"domain": ["Ref", "kFNO*", "IS-FNO*", "IS-FNOᵒ"], "range": [[1, 0], [1.5, 2], [5, 2.5], [6, 2, 1.5, 2]]}, "legend": null},
           "strokeWidth": {"field": "series", "type": "nominal", "scale": {"type": "ordinal", "domain": ["Ref", "kFNO*", "IS-FNO*", "IS-FNOᵒ"], "range": [6, 1.6, 1.6, 1.6]}, "legend": null}
         }}
      ],
      "resolve": {"axis": {"y": "independent"}}
    }
  ]
}
